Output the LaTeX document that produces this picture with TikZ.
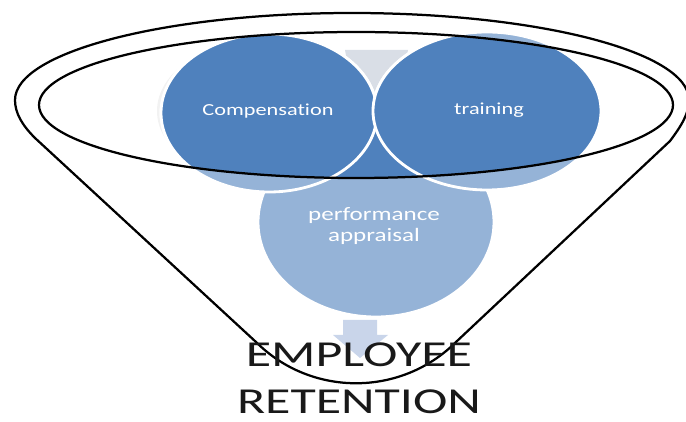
\documentclass[tikz,border=0pt]{standalone}
\usepackage{fontspec}
\setmainfont{Carlito}[Ligatures={NoCommon,NoRare,NoContextual}]
\usepackage{graphicx}
\definecolor{darkblue}{HTML}{4F81BD}
\definecolor{lightblue}{HTML}{95B3D7}
\definecolor{paleblue}{HTML}{C9D5EA}
\definecolor{palegray}{HTML}{D9DEE6}
\tikzstyle{light disc}  = [fill=lightblue,draw=white,line width=2pt]
\tikzstyle{dark disc}   = [fill=darkblue,draw=white,line width=2pt]
\tikzstyle{funnel line} = [draw=black,line width=1.6pt]
\tikzstyle{disc text}   = [text=white,align=center,inner sep=0pt]

\begin{document}
\begin{tikzpicture}[x=0.25mm,y=0.25mm]

    \useasboundingbox (0,0) rectangle (686,421);
    \clip (0,0) rectangle (686,421);

    % pale shape behind the discs
    \fill[palegray] (345,371) -- (408,371) -- (395,300) -- (358,300) -- cycle;
    \fill[black!5] (261,310) ellipse [x radius=104, y radius=70];

    % discs, light part
    \path[light disc] (376,199) ellipse [x radius=118, y radius=95];
    \path[light disc] (269,308) ellipse [x radius=108, y radius=79];
    \path[light disc] (487,310) ellipse [x radius=114, y radius=79];

    % discs, dark part inside the funnel mouth
    \begin{scope}
        \clip (356,316) ellipse [x radius=317, y radius=73];
        \path[dark disc] (376,199) ellipse [x radius=118, y radius=95];
        \path[dark disc] (269,308) ellipse [x radius=108, y radius=79];
        \path[dark disc] (487,310) ellipse [x radius=114, y radius=79];
    \end{scope}

    \node(comp)[disc text, font=\fontsize{12}{14}\selectfont] at (268,310)
        {\scalebox{1.32}[1]{Compensation}};
    \node(train)[disc text, font=\fontsize{12}{14}\selectfont] at (489,311)
        {\scalebox{1.32}[1]{training}};
    \node(perf)[disc text, font=\fontsize{13.5}{14.5}\selectfont] at (374,195)
        {\scalebox{1.32}[1]{performance}\\\scalebox{1.32}[1]{appraisal}};

    % arrow down to the result
    \fill[paleblue] (343,101) -- (377,101) -- (377,86) -- (388,86) -- (360,63)
        -- (333,86) -- (343,86) -- cycle;

    % funnel
    \path[funnel line] (356,316) ellipse [x radius=317, y radius=73];
    \path[funnel line] (35,283) .. controls (22,296) and (15,308) .. (15,321)
        arc[start angle=180, end angle=0, x radius=337, y radius=87]
        .. controls (689,308) and (682,296) .. (670,280)
        -- (456,79) .. controls (401,24) and (311,24) .. (256,79) -- cycle;

    \node(result)[anchor=base, align=center, text=black!90,
        font=\fontsize{26}{33.4}\selectfont] at (359,8)
        {\scalebox{1.42}[1]{EMPLOYEE}\\\scalebox{1.42}[1]{RETENTION}};

\end{tikzpicture}
\end{document}
